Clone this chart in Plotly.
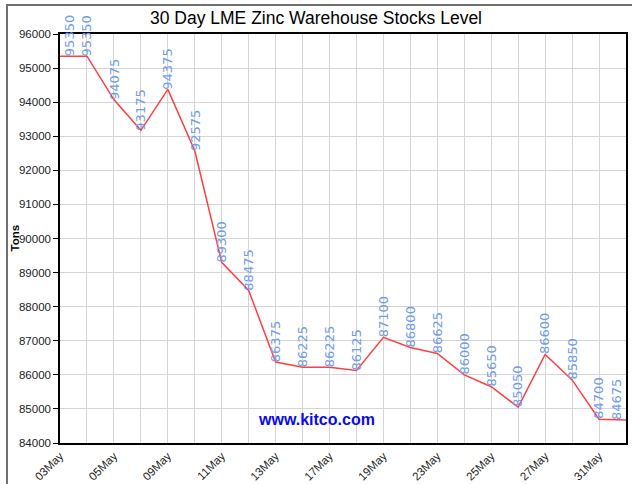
import plotly.graph_objects as go

dates = ["03May", "04May", "05May", "06May", "09May", "10May", "11May", "12May",
         "13May", "16May", "17May", "18May", "19May", "20May", "23May", "24May",
         "25May", "26May", "27May", "30May", "31May", "01Jun"]
stocks = [95350, 95350, 94075, 93175, 94375, 92575, 89300, 88475,
          86375, 86225, 86225, 86125, 87100, 86800, 86625, 86000,
          85650, 85050, 86600, 85850, 84700, 84675]
y_ticks = list(range(84000, 96001, 1000))

title_text = "30 Day LME Zinc Warehouse Stocks Level"
y_title = "Tons"
watermark = "www.kitco.com"

tick_text = [d if i % 2 == 0 else "" for i, d in enumerate(dates)]

fig = go.Figure()
fig.add_trace(go.Scatter(
    x=dates, y=stocks, mode="lines",
    line=dict(color="#ff4040", width=1.5),
    hoverinfo="x+y", showlegend=False,
))

annotations = []
n = len(dates)
for i, (d, v) in enumerate(zip(dates, stocks)):
    if i == 0:
        xa, xs = "left", 2
    elif i == n - 1:
        xa, xs = "right", -2
    else:
        xa, xs = "center", 0
    annotations.append(dict(
        x=d, y=v, xref="x", yref="y", text=str(v), showarrow=False,
        textangle=-90, xanchor=xa, xshift=xs, yanchor="bottom",
        borderpad=0, borderwidth=0,
        font=dict(family="DejaVu Sans", size=13, color="#6f9cec"),
    ))

annotations.append(dict(
    x=(14 - 60) / 566, y=0.5, xref="paper", yref="paper", text="<b>" + y_title + "</b>",
    showarrow=False, textangle=-90, xanchor="center", yanchor="middle",
    font=dict(family="Liberation Sans", size=11.5, color="#000000"),
))
annotations.append(dict(
    x=(316 - 60) / 566, y=(443 - 419) / 409, xref="paper", yref="paper",
    text="<b>" + watermark + "</b>", showarrow=False,
    xanchor="center", yanchor="middle",
    font=dict(family="Liberation Sans", size=16, color="#0a0af0"),
))

fig.update_layout(
    width=632, height=484,
    margin=dict(l=60, r=6, t=34, b=41, autoexpand=False),
    paper_bgcolor="#ffffff", plot_bgcolor="#ffffff",
    title=dict(text=title_text, x=0.5, xref="container", xanchor="center",
               y=1 - 18 / 484, yanchor="middle",
               font=dict(family="Liberation Sans", size=17.5, color="#000000")),
    annotations=annotations,
    shapes=[dict(type="rect", xref="paper", yref="paper",
                 x0=(7 - 60) / 566, x1=1.1, y0=-0.3, y1=1 + (34 - 5) / 409,
                 line=dict(color="#707070", width=2), layer="below")],
    xaxis=dict(
        type="category", range=[0, n - 1],
        tickmode="array", tickvals=dates, ticktext=tick_text,
        tickangle=-45, ticks="", automargin=False,
        showgrid=True, gridcolor="#d4d4d4", gridwidth=1,
        showline=True, linecolor="#000000", linewidth=1.5, mirror=True,
        tickfont=dict(family="Liberation Sans", size=11.5, color="#222222"),
        zeroline=False,
    ),
    yaxis=dict(
        range=[84000, 96000], tickmode="array", tickvals=y_ticks,
        ticktext=[str(t) for t in y_ticks], automargin=False,
        ticks="outside", ticklen=5, tickcolor="#000000",
        showgrid=True, gridcolor="#d4d4d4", gridwidth=1,
        showline=True, linecolor="#000000", linewidth=1.5, mirror=True,
        tickfont=dict(family="Liberation Sans", size=11.5, color="#222222"),
        zeroline=False,
    ),
)

fig.write_html("out.html", config={"displayModeBar": False},
               post_script="document.body.style.margin='0';document.body.style.padding='0';")
